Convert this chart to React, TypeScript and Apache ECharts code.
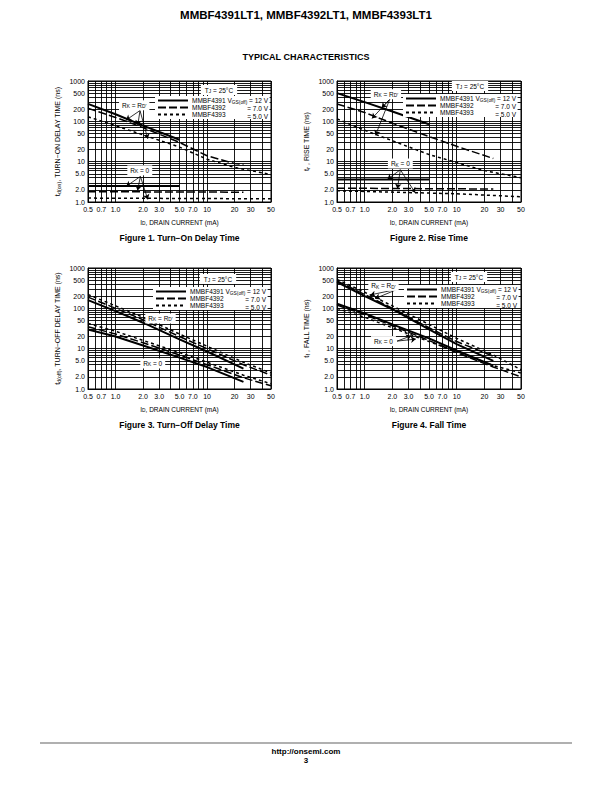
import React, { useEffect, useRef } from 'react';
import * as echarts from 'echarts';

const FONT = '"Liberation Sans", Arial, Helvetica, sans-serif';

// ---- axis ticks / labels ----
const xTickValues = [0.5, 0.7, 1, 2, 3, 5, 7, 10, 20, 30, 50];
const xTickLabels = ['0.5', '0.7', '1.0', '2.0', '3.0', '5.0', '7.0', '10', '20', '30', '50'];
const yTickValues = [1, 2, 5, 10, 20, 50, 100, 200, 500, 1000];
const yTickLabels = ['1.0', '2.0', '5.0', '10', '20', '50', '100', '200', '500', '1000'];
const xGridValues = [0.5, 0.6, 0.7, 0.8, 0.9, 1, 2, 3, 4, 5, 6, 7, 8, 9, 10, 20, 30, 40, 50];
const yGridValues = [1, 2, 3, 4, 5, 6, 7, 8, 9, 10, 20, 30, 40, 50, 60, 70, 80, 90, 100, 200, 300, 400, 500, 600, 700, 800, 900, 1000];

const deviceNames = ['MMBF4391', 'MMBF4392', 'MMBF4393'];
const vgsValues = ['12 V', '7.0 V', '5.0 V'];

// ---- Figure 1: turn-on delay time ----
const f1RdSolid = [[0.5, 270], [1, 150], [2, 78], [5, 35]];
const f1RdDash = [[0.5, 210], [1, 125], [2, 70], [5, 30], [10, 14], [20, 9], [25, 8.5]];
const f1RdDot = [[0.5, 130], [1, 78], [2, 46], [5, 23], [10, 11.5], [20, 7.2], [50, 4.8]];
const f1RkSolid = [[0.5, 2.5], [5, 2.5]];
const f1RkDash = [[0.5, 1.8], [25, 1.75]];
const f1RkDot = [[0.5, 1.25], [50, 1.2]];

// ---- Figure 2: rise time ----
const f2RdSolid = [[0.5, 500], [1, 300], [2, 175], [5, 85]];
const f2RdDash = [[0.5, 270], [1, 165], [2, 90], [5, 42], [10, 24], [25, 12]];
const f2RdDot = [[0.5, 115], [1, 60], [2, 33], [5, 15], [10, 9.5], [20, 6], [50, 4]];
const f2RkSolid = [[0.5, 3.6], [5, 3.6]];
const f2RkDash = [[0.5, 2.2], [25, 2.1]];
const f2RkDot = [[0.5, 1.9], [10, 1.6], [50, 1.35]];

// ---- Figure 3: turn-off delay time ----
const f3RdSolid = [[0.5, 160], [1, 85], [2, 44], [5, 17], [10, 8.5], [25, 3.2]];
const f3RdDash = [[0.5, 190], [1, 100], [2, 52], [5, 20], [10, 10], [25, 4], [50, 2.2]];
const f3RdDot = [[0.5, 220], [1, 115], [2, 60], [5, 23], [10, 11.5], [25, 4.6], [50, 2.5]];
const f3RkSolid = [[0.5, 30], [1, 20], [2, 12], [5, 6], [10, 3.5], [25, 1.5]];
const f3RkDash = [[0.5, 35], [1, 23], [2, 14], [5, 7], [10, 4], [25, 1.9], [50, 1.2]];
const f3RkDot = [[0.5, 42], [1, 27], [2, 16], [5, 8], [10, 4.6], [25, 2.2], [50, 1.35]];

// ---- Figure 4: fall time ----
const f4RdSolid = [[0.5, 450], [1, 200], [2, 95], [5, 30], [10, 13], [25, 5]];
const f4RdDash = [[0.5, 480], [1, 220], [2, 100], [5, 33], [10, 15], [25, 6.5]];
const f4RdDot = [[0.5, 520], [1, 250], [2, 115], [5, 40], [10, 18], [25, 7], [50, 3]];
const f4RkSolid = [[0.5, 130], [1, 75], [2, 40], [5, 18], [10, 9], [25, 3.8]];
const f4RkDash = [[0.5, 120], [1, 70], [2, 37], [5, 16], [10, 8], [25, 3.5], [50, 2]];
const f4RkDot = [[0.5, 100], [1, 60], [2, 33], [5, 15], [10, 8.5], [25, 3.8], [50, 2.5]];

const rich: any = {
  n: { fontSize: 6.5, fontFamily: FONT, color: '#000' },
  s: { fontSize: 4.8, fontFamily: FONT, color: '#000', padding: [3, 0, 0, 0] },
  t: { fontSize: 8, fontFamily: FONT, color: '#000' },
  tn: { fontSize: 7, fontFamily: FONT, color: '#000' },
  ts: { fontSize: 5.2, fontFamily: FONT, color: '#000', padding: [3, 0, 0, 0] },
};

const RKRD = '{n|R}{s|K}{n| = R}{s|D′}';
const RK0 = '{n|R}{s|K}{n| = 0}';

const charts = [
  {
    rect: [88, 81, 183, 121],
    yName: '{t|t}{ts|d(on)}{tn|, TURN−ON DELAY TIME (ns)}',
    caption: 'Figure 1. Turn−On Delay Time',
    curves: [f1RdSolid, f1RdDash, f1RdDot, f1RkSolid, f1RkDash, f1RkDot],
    labels: [{ text: RKRD, coord: [1.6, 250] }, { text: RK0, coord: [1.84, 6.1] }],
    arrows: [
      [[1.85, 185], [1.3, 107]], [[1.85, 185], [1.75, 80]], [[1.85, 185], [2.25, 37]],
      [[1.87, 4.3], [1.31, 2.45]], [[1.87, 4.3], [1.74, 1.94]], [[1.87, 4.3], [2.25, 1.16]],
    ],
    tj: [219, 90],
    legend: [155, 96],
  },
  {
    rect: [337, 81, 184, 121],
    yName: '{t|t}{ts|r}{tn| , RISE TIME (ns)}',
    caption: 'Figure 2. Rise Time',
    curves: [f2RdSolid, f2RdDash, f2RdDot, f2RkSolid, f2RkDash, f2RkDot],
    labels: [{ text: RKRD, coord: [1.7, 470] }, { text: RK0, coord: [2.44, 9] }],
    arrows: [
      [[1.87, 350], [1.2, 118]], [[1.87, 350], [1.31, 45]], [[1.87, 350], [1.53, 217]],
      [[2.44, 6.3], [1.77, 3.66]], [[2.44, 6.3], [2.27, 2.14]], [[2.44, 6.3], [3.54, 1.7]],
    ],
    tj: [470, 86],
    legend: [403, 94],
  },
  {
    rect: [88, 268, 183, 121],
    yName: '{t|t}{ts|d(off)}{tn|, TURN−OFF DELAY TIME (ns)}',
    caption: 'Figure 3. Turn−Off Delay Time',
    curves: [f3RdSolid, f3RdDash, f3RdDot, f3RkSolid, f3RkDash, f3RkDot],
    labels: [{ text: RKRD, coord: [3.1, 56] }, { text: RK0, coord: [2.55, 4.3] }],
    arrows: [],
    tj: [218, 279],
    legend: [153, 287],
  },
  {
    rect: [337, 268, 184, 121],
    yName: '{t|t}{ts|f}{tn| , FALL TIME (ns)}',
    caption: 'Figure 4. Fall Time',
    curves: [f4RdSolid, f4RdDash, f4RdDot, f4RkSolid, f4RkDash, f4RkDot],
    labels: [{ text: RKRD, coord: [1.6, 360] }, { text: RK0, coord: [1.6, 15.4] }],
    arrows: [
      [[2.3, 300], [1.15, 215]], [[2.3, 300], [1.3, 175]],
      [[2.25, 15.4], [3.2, 20.8]], [[2.25, 15.4], [3.6, 17.3]],
    ],
    tj: [469, 277],
    legend: [404, 285],
  },
];

const lineStyles: any[] = [
  { type: 'solid', width: 2 },
  { type: [8, 3], width: 1.5 },
  { type: [3, 3], width: 1.5 },
];

function lookup(values: number[], labels: string[], v: number) {
  for (let i = 0; i < values.length; i++) {
    if (Math.abs(Math.log10(v) - Math.log10(values[i])) < 0.005) return labels[i];
  }
  return '';
}

function buildOption() {
  const grid: any[] = [];
  const xAxis: any[] = [];
  const yAxis: any[] = [];
  const series: any[] = [];
  const legend: any[] = [];
  const graphic: any[] = [];

  charts.forEach((c, gi) => {
    const [l, t, w, h] = c.rect;
    grid.push({ left: l, top: t, width: w, height: h, show: true, borderColor: '#000', borderWidth: 1, backgroundColor: '#fff' });
    xAxis.push({
      type: 'log', logBase: 10, min: 0.5, max: 50, gridIndex: gi,
      axisLine: { show: true, lineStyle: { color: '#000', width: 1 } },
      axisTick: { show: false },
      splitLine: { show: false },
      axisLabel: {
        customValues: xTickValues, fontSize: 7, fontFamily: FONT, color: '#000', margin: 4,
        showMinLabel: true, showMaxLabel: true,
        formatter: (v: number) => lookup(xTickValues, xTickLabels, v),
      },
      name: '{n|I}{s|D}{n|, DRAIN CURRENT (mA)}',
      nameLocation: 'middle', nameGap: 16,
      nameTextStyle: { rich },
    });
    yAxis.push({
      type: 'log', logBase: 10, min: 1, max: 1000, gridIndex: gi,
      axisLine: { show: true, lineStyle: { color: '#000', width: 1 } },
      axisTick: { show: false },
      splitLine: { show: false },
      axisLabel: {
        customValues: yTickValues, fontSize: 7, fontFamily: FONT, color: '#000', margin: 3,
        showMinLabel: true, showMaxLabel: true,
        formatter: (v: number) => lookup(yTickValues, yTickLabels, v),
      },
      name: c.yName,
      nameLocation: 'middle', nameGap: 27, nameRotate: 90,
      nameTextStyle: { rich },
    });

    // grid lines through the axes' scales
    series.push({
      type: 'line', name: 'grid' + gi, xAxisIndex: gi, yAxisIndex: gi, data: [], z: 1, silent: true,
      markLine: {
        z: 1,
        silent: true, symbol: ['none', 'none'], animation: false,
        label: { show: false },
        lineStyle: { color: '#000', width: 0.9, type: 'solid' },
        data: [
          ...xGridValues.map((v) => ({ xAxis: v })),
          ...yGridValues.map((v) => ({ yAxis: v })),
        ],
      },
    });

    c.curves.forEach((d, ci) => {
      const di = ci % 3;
      series.push({
        type: 'line', name: deviceNames[di], xAxisIndex: gi, yAxisIndex: gi,
        data: d, symbol: 'none', silent: true, z: 3,
        color: '#000',
        itemStyle: { color: '#000' },
        lineStyle: { color: '#000', ...lineStyles[di] },
      });
    });

    // annotations
    series.push({
      type: 'line', name: 'ann' + gi, xAxisIndex: gi, yAxisIndex: gi, data: [], z: 6, silent: true,
      markLine: {
        z: 6,
        silent: true, symbol: ['none', 'arrow'], symbolSize: 5, animation: false,
        label: { show: false },
        lineStyle: { color: '#000', width: 0.8, type: 'solid' },
        data: c.arrows.map((a) => [{ coord: a[0] }, { coord: a[1] }]),
      },
      markPoint: {
        z: 7,
        silent: true, symbol: 'rect', symbolSize: 0, animation: false,
        data: c.labels.map((lb) => ({
          coord: lb.coord,
          label: {
            show: true, position: 'inside', formatter: lb.text, rich,
            backgroundColor: '#fff', padding: [1, 3, 1, 3],
          },
        })),
      },
    });

    legend.push({
      z: 20,
      data: deviceNames,
      orient: 'vertical', left: c.legend[0], top: c.legend[1],
      itemWidth: 30, itemHeight: 6, itemGap: 0,
      selectedMode: false,
      backgroundColor: '#fff',
      padding: [1, 44, 1, 2],
      itemStyle: { color: 'rgba(0,0,0,0)', borderColor: 'rgba(0,0,0,0)', borderWidth: 0, opacity: 0 },
      textStyle: { fontSize: 6.5, fontFamily: FONT, color: '#000', padding: [0, 0, 0, -1] },
    });

    const vx = c.legend[0] + 113;
    graphic.push({
      type: 'text', x: vx, y: c.legend[1] + 4.5, z: 100,
      style: { text: '{n|V}{s|GS(off)}{n| = ' + vgsValues[0] + '}', rich, textAlign: 'right', textVerticalAlign: 'middle' },
    });
    graphic.push({
      type: 'text', x: vx, y: c.legend[1] + 12.5, z: 100,
      style: { text: '= ' + vgsValues[1], fontSize: 6.5, fontFamily: FONT, fill: '#000', textAlign: 'right', textVerticalAlign: 'middle' },
    });
    graphic.push({
      type: 'text', x: vx, y: c.legend[1] + 20.5, z: 100,
      style: { text: '= ' + vgsValues[2], fontSize: 6.5, fontFamily: FONT, fill: '#000', textAlign: 'right', textVerticalAlign: 'middle' },
    });
    graphic.push({
      type: 'text', x: c.tj[0], y: c.tj[1], z: 100,
      style: {
        text: '{n|T}{s|J}{n| = 25°C}', rich, textAlign: 'center', textVerticalAlign: 'middle',
        backgroundColor: '#fff', padding: [1, 4, 1, 4],
      },
    });
    graphic.push({
      type: 'text', x: l + w / 2, y: t + h + 36, z: 100,
      style: { text: c.caption, fontSize: 8.5, fontWeight: 'bold', fontFamily: FONT, fill: '#000', textAlign: 'center', textVerticalAlign: 'middle' },
    });
  });

  graphic.push({
    type: 'text', x: 306, y: 15, z: 100,
    style: { text: 'MMBF4391LT1, MMBF4392LT1, MMBF4393LT1', fontSize: 11.5, fontWeight: 'bold', fontFamily: FONT, fill: '#000', textAlign: 'center', textVerticalAlign: 'middle' },
  });
  graphic.push({
    type: 'text', x: 306, y: 57, z: 100,
    style: { text: 'TYPICAL CHARACTERISTICS', fontSize: 9, fontWeight: 'bold', fontFamily: FONT, fill: '#000', textAlign: 'center', textVerticalAlign: 'middle' },
  });
  graphic.push({
    type: 'line', z: 100,
    shape: { x1: 40, y1: 743, x2: 572, y2: 743 },
    style: { stroke: '#b0b0b0', lineWidth: 2 },
  });
  graphic.push({
    type: 'text', x: 306, y: 751, z: 100,
    style: { text: 'http://onsemi.com', fontSize: 8, fontWeight: 'bold', fontFamily: FONT, fill: '#000', textAlign: 'center', textVerticalAlign: 'middle' },
  });
  graphic.push({
    type: 'text', x: 306, y: 760, z: 100,
    style: { text: '3', fontSize: 8, fontWeight: 'bold', fontFamily: FONT, fill: '#000', textAlign: 'center', textVerticalAlign: 'middle' },
  });

  return {
    animation: false,
    backgroundColor: '#fff',
    textStyle: { fontFamily: FONT },
    grid, xAxis, yAxis, series, legend, graphic,
  };
}

export default function App() {
  const ref = useRef<HTMLDivElement>(null);
  useEffect(() => {
    if (!ref.current) return;
    const chart = echarts.init(ref.current, undefined, { renderer: 'svg' });
    chart.setOption(buildOption() as any);
    return () => chart.dispose();
  }, []);
  return <div ref={ref} style={{ position: 'absolute', left: 0, top: 0, width: 612, height: 792 }} />;
}
